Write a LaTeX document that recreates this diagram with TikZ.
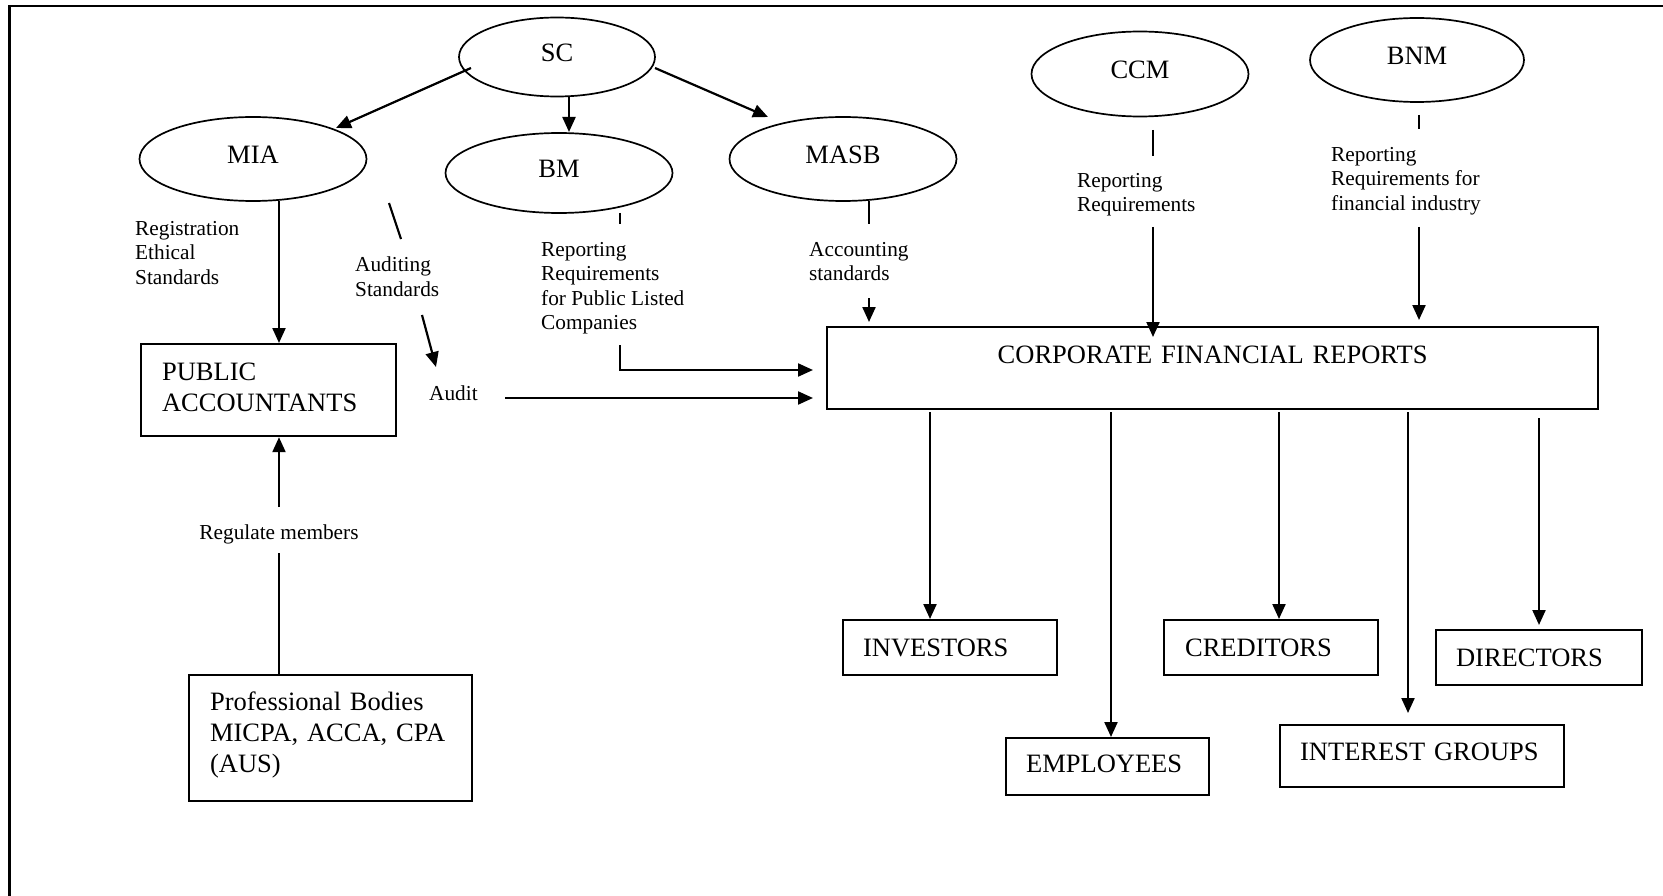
\documentclass[tikz,border=0pt]{standalone}
\usepackage{fontspec}
\setmainfont{Liberation Serif}
\usetikzlibrary{shapes.geometric,arrows.meta}
\begin{document}
\begin{tikzpicture}[x=1pt,y=-1pt,
  big/.style={font=\fontsize{26.5}{31}\selectfont},
  small/.style={font=\fontsize{21.3}{24.5}\selectfont},
  oval/.style={ellipse,draw,line width=1.7pt,inner sep=0pt,big,text height=17.6pt,text depth=8pt},
  box/.style={draw,line width=2.2pt,rectangle,inner ysep=0pt,anchor=north west,big,align=left},
  onebox/.style={box,text height=17.4pt,text depth=0pt},
  lbl/.style={small,align=left,inner sep=0pt,anchor=north west},
  arr/.style={line width=2.2pt,-{Triangle[length=15pt,width=13pt]}},
  ln/.style={line width=2.2pt},
  thin/.style={line width=1.7pt}]
\useasboundingbox (0,0) rectangle (1663,896);
% frame
\draw[ln] (1663,6) -- (9.5,6) -- (9.5,896);

% ovals
\node[oval,minimum width=196pt,minimum height=79pt] (sc) at (557,57) {SC};
\node[oval,minimum width=227pt,minimum height=84pt] (mia) at (253,159) {MIA};
\node[oval,minimum width=227pt,minimum height=80pt] (bm) at (559,173) {BM};
\node[oval,minimum width=227pt,minimum height=84pt] (masb) at (843,159) {MASB};
\node[oval,minimum width=217pt,minimum height=85pt] (ccm) at (1140,74) {CCM};
\node[oval,minimum width=214pt,minimum height=84pt] (bnm) at (1417,60) {BNM};

% boxes
\node[box,minimum width=255pt,minimum height=92pt,text width=213pt,inner xsep=21pt,text height=17.4pt,text depth=37.4pt] (pa) at (140,343) {PUBLIC\\ACCOUNTANTS};
\node[box,minimum width=283pt,minimum height=126pt,text width=241pt,inner xsep=21pt,text height=18.1pt,text depth=74.1pt] (pb) at (188,674) {Professional Bodies\\\mbox{MICPA, ACCA, CPA}\\(AUS)};
\node[box,align=center,minimum width=771pt,minimum height=82pt,text width=771pt,inner xsep=0pt,text height=17.4pt,text depth=26pt] (cfr) at (826,326) {CORPORATE FINANCIAL REPORTS};
\node[onebox,minimum width=214pt,minimum height=55pt,text width=174pt,inner xsep=20pt] (inv) at (842,619) {INVESTORS};
\node[onebox,minimum width=203pt,minimum height=57pt,text width=163pt,inner xsep=20pt,text depth=5pt] (emp) at (1005,737) {EMPLOYEES};
\node[onebox,minimum width=214pt,minimum height=55pt,text width=172pt,inner xsep=21pt] (cre) at (1163,619) {CREDITORS};
\node[onebox,minimum width=284pt,minimum height=62pt,text width=244pt,inner xsep=20pt,text depth=8pt] (intg) at (1279,724) {\mbox{INTEREST GROUPS}};
\node[onebox,minimum width=206pt,minimum height=55pt,text width=166pt,inner xsep=20pt] (dir) at (1435,629) {DIRECTORS};

% labels
\node[lbl] (lreg) at (135,221) {Registration\\Ethical\\Standards};
\node[lbl] (laud) at (355,257) {Auditing\\Standards};
\node[lbl] (laudit) at (429,386) {Audit};
\node[lbl] (lbm) at (541,242) {Reporting\\Requirements\\for Public Listed\\Companies};
\node[lbl] (lacc) at (809,242) {Accounting\\standards};
\node[lbl] (lccm) at (1077,173) {Reporting\\Requirements};
\node[lbl] (lbnm) at (1331,147) {Reporting\\Requirements for\\financial industry};
\node[small,inner sep=0pt,anchor=north] (lregm) at (279,525) {Regulate members};

% coordinates
\coordinate (s1) at (471,68);  \coordinate (s2) at (336,128);
\coordinate (s3) at (569,97);  \coordinate (s4) at (569,132);
\coordinate (s5) at (655,68);  \coordinate (s6) at (768,117);
\coordinate (m1) at (279,201);
\coordinate (t1) at (389,203); \coordinate (t2) at (401,239);
\coordinate (t3) at (422,315); \coordinate (t4) at (436,367);
\coordinate (a1) at (505,398); \coordinate (a2) at (813,398);
\coordinate (b1) at (620,213); \coordinate (b2) at (620,224);
\coordinate (b3) at (620,345); \coordinate (b4) at (813,370);
\coordinate (k1) at (869,201); \coordinate (k2) at (869,224);
\coordinate (k3) at (869,298); \coordinate (k4) at (869,322);
\coordinate (c1) at (1153,130); \coordinate (c2) at (1153,156);
\coordinate (c3) at (1153,227); \coordinate (c4) at (1153,337);
\coordinate (n1) at (1419,115); \coordinate (n2) at (1419,129);
\coordinate (n3) at (1419,227); \coordinate (n4) at (1419,320);
\coordinate (d1) at (930,412);
\coordinate (d2) at (1111,412);
\coordinate (d3) at (1279,412);
\coordinate (d4) at (1408,412); \coordinate (d4e) at (1408,713);
\coordinate (d5) at (1539,418); \coordinate (d5e) at (1539,625);
\coordinate (r1) at (279,674); \coordinate (r2) at (279,553);
\coordinate (r3) at (279,507);

% connectors
\draw[arr] (s1) -- (s2);
\draw[arr] (s3) -- (s4);
\draw[arr] (s5) -- (s6);
\draw[arr] (m1) -- (m1 |- pa.north);
\draw[ln] (t1) -- (t2);
\draw[arr] (t3) -- (t4);
\draw[arr] (a1) -- (a2);
\draw[thin] (b1) -- (b2);
\draw[arr] (b3) |- (b4);
\draw[ln] (k1) -- (k2);
\draw[arr] (k3) -- (k4);
\draw[ln] (c1) -- (c2);
\draw[arr] (c3) -- (c4);
\draw[ln] (n1) -- (n2);
\draw[arr] (n3) -- (n4);
\draw[arr] (d1) -- (d1 |- inv.north);
\draw[arr] (d2) -- (d2 |- emp.north);
\draw[arr] (d3) -- (d3 |- cre.north);
\draw[arr] (d4) -- (d4e);
\draw[arr] (d5) -- (d5e);
\draw[ln] (r1) -- (r2);
\draw[arr] (r3) -- (r3 |- pa.south);
\end{tikzpicture}
\end{document}
